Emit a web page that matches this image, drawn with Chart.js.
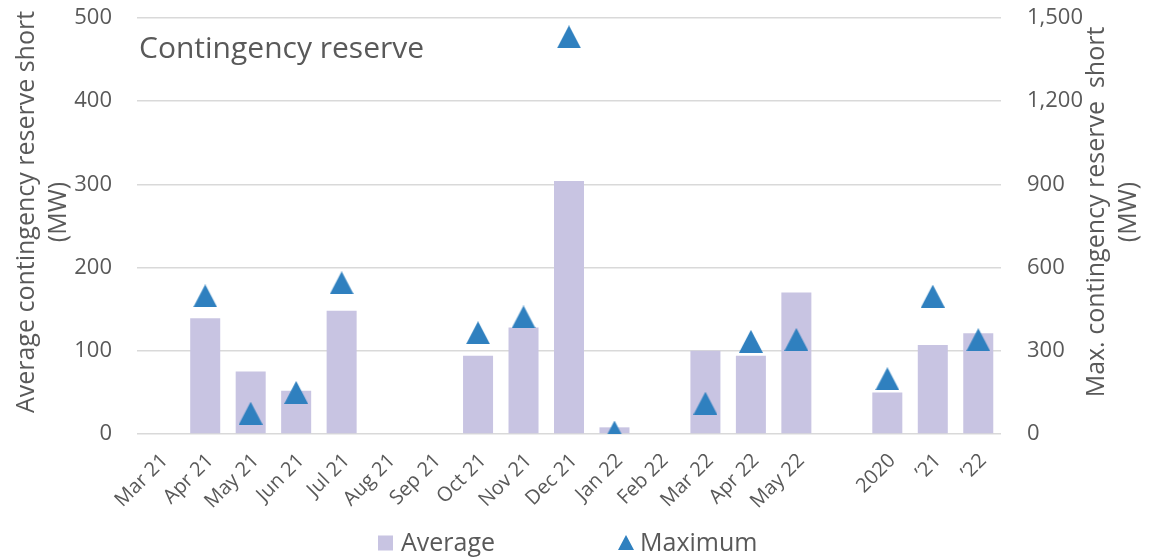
<!DOCTYPE html>
<html><head><meta charset="utf-8">
<script src="https://cdn.jsdelivr.net/npm/chart.js@4"></script>
<style>html,body{margin:0;padding:0;background:#fff;}#wrap{width:1153px;height:559px;position:relative;}</style>
</head><body><div id="wrap"><canvas id="c"></canvas></div>
<script>
const categories = ['Mar 21','Apr 21','May 21','Jun 21','Jul 21','Aug 21','Sep 21','Oct 21','Nov 21','Dec 21','Jan 22','Feb 22','Mar 22','Apr 22','May 22','','2020','\u201921','\u201922'];
const averageMW = [null,139,75,52,148,null,null,94,128,304,8,null,100,94,170,null,50,107,121];
const maximumMW = [null,498,75,150,545,null,null,365,422,1432,7,null,111,334,341,null,199,497,340];
const leftTickStep = 100, leftMax = 500;
const rightTickStep = 300, rightMax = 1500;
const chartTitle = 'Contingency reserve';
const leftTitle = ['Average contingency reserve short','(MW)'];
const rightTitle = ['Max. contingency reserve  short','(MW)'];
const legendLabels = ['Average','Maximum'];

const TXT = '#595959', BAR = '#c8c4e2', TRI = '#2f80bf', GRID = '#d9d9d9';
const FONT = '"Open Sans", "Noto Sans", sans-serif';

function triCanvas(w, h){
  const c = document.createElement('canvas'); c.width = w; c.height = h;
  const g = c.getContext('2d'); g.fillStyle = TRI;
  g.beginPath(); g.moveTo(w/2,0); g.lineTo(w,h); g.lineTo(0,h); g.closePath(); g.fill();
  return c;
}
const bigTri = triCanvas(24,23);
const smallTri = triCanvas(16,15);

const decor = {
  id:'decor',
  afterDraw(chart){
    const ctx = chart.ctx, a = chart.chartArea;
    ctx.save();
    ctx.fillStyle = TXT;
    ctx.font = '30px ' + FONT; ctx.textAlign='left'; ctx.textBaseline='alphabetic';
    ctx.fillText(chartTitle, a.left + 2, 58);
    ctx.font = '25px ' + FONT; ctx.textAlign='center';
    const cy = 212;
    [[leftTitle, 34], [rightTitle, 1104]].forEach(([lines, bx]) => {
      lines.forEach((t,i) => {
        ctx.save(); ctx.translate(bx + i*32, cy); ctx.rotate(-Math.PI/2);
        ctx.fillText(t, 0, 0); ctx.restore();
      });
    });
    const ly = 543;
    ctx.fillStyle = BAR; ctx.fillRect(378, ly-7.5, 15, 15);
    ctx.drawImage(smallTri, 618, ly-8);
    ctx.fillStyle = TXT; ctx.font = '25px ' + FONT; ctx.textAlign='left'; ctx.textBaseline='middle';
    ctx.fillText(legendLabels[0], 401, ly+1);
    ctx.fillText(legendLabels[1], 640, ly+1);
    ctx.restore();
  }
};

new Chart(document.getElementById('c'), {
  data: {
    labels: categories,
    datasets: [
      { type:'bar', label: legendLabels[0], data: averageMW, backgroundColor: BAR, borderWidth:0,
        barPercentage:0.66, categoryPercentage:1, yAxisID:'y', order:2 },
      { type:'line', label: legendLabels[1], data: maximumMW, showLine:false, pointStyle: bigTri,
        pointRadius:12, pointHoverRadius:12, yAxisID:'y2', order:1 }
    ]
  },
  options: {
    responsive:true, maintainAspectRatio:false, animation:false,
    layout:{ autoPadding:false, padding:{ top:18, left:0, right:0, bottom:0 } },
    plugins:{ legend:{display:false}, tooltip:{enabled:false} },
    scales:{
      x:{ grid:{display:false}, border:{display:false},
          ticks:{ color:TXT, font:{family:FONT, size:20}, minRotation:45, maxRotation:45, autoSkip:false, padding:7, labelOffset:5 },
          afterFit(s){ s.height = 125; } },
      y:{ position:'left', min:0, max:leftMax,
          grid:{color:GRID, lineWidth:1.5, drawTicks:true, tickLength:25, tickColor:'rgba(0,0,0,0)'}, border:{display:false},
          ticks:{ stepSize:leftTickStep, color:TXT, font:{family:FONT, size:22}, padding:0 },
          afterFit(s){ s.width = 137; } },
      y2:{ position:'right', min:0, max:rightMax,
          grid:{display:false, drawTicks:true, tickLength:26, tickColor:'rgba(0,0,0,0)'}, border:{display:false},
          ticks:{ stepSize:rightTickStep, color:TXT, font:{family:FONT, size:22}, padding:0,
                  callback:v => v.toLocaleString('en-US') },
          afterFit(s){ s.width = 152; } }
    }
  },
  plugins:[decor]
});
</script></body></html>
